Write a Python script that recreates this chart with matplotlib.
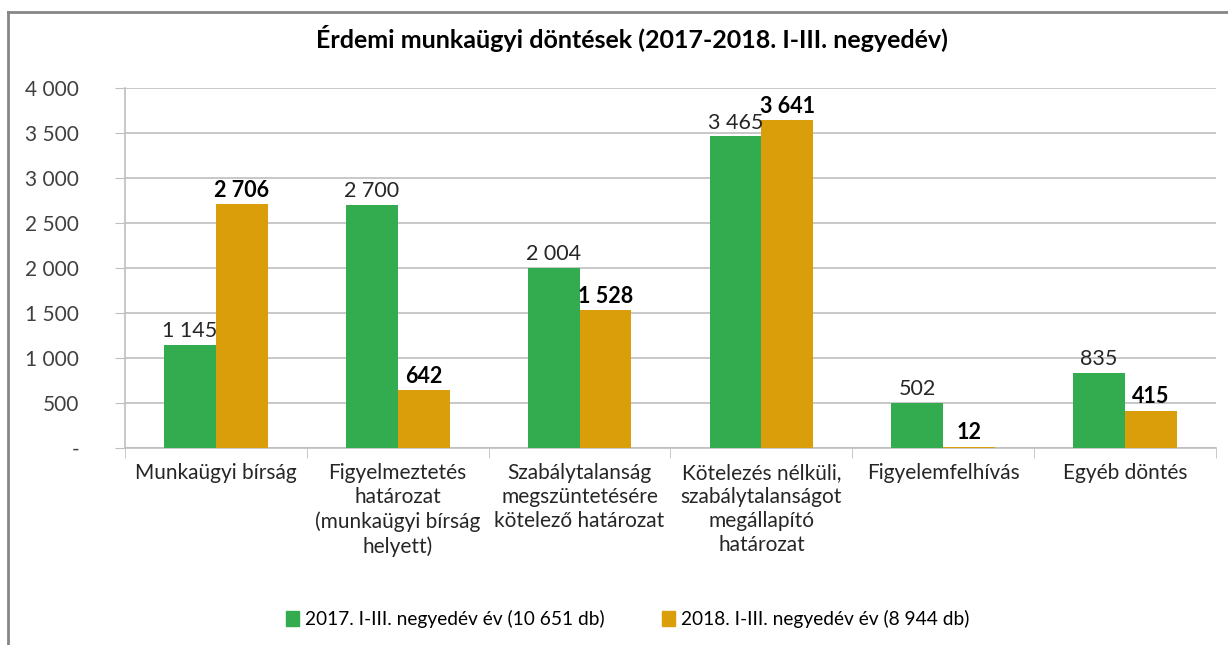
import matplotlib.pyplot as plt
import numpy as np
from matplotlib.lines import Line2D
from matplotlib.patches import Patch

plt.rcParams['font.family'] = ['Lato', 'DejaVu Sans']

categories = ['Munkaügyi bírság',
              'Figyelmeztetés\nhatározat\n(munkaügyi bírság\nhelyett)',
              'Szabálytalanság\nmegszüntetésére\nkötelező határozat',
              'Kötelezés nélküli,\nszabálytalanságot\nmegállapító\nhatározat',
              'Figyelemfelhívás',
              'Egyéb döntés']
v2017 = [1145, 2700, 2004, 3465, 502, 835]
v2018 = [2706, 642, 1528, 3641, 12, 415]
lab2017 = '2017. I-III. negyedév év (10 651 db)'
lab2018 = '2018. I-III. negyedév év (8 944 db)'
yticks = [0, 500, 1000, 1500, 2000, 2500, 3000, 3500, 4000]
yticklabels = ['-', '500', '1 000', '1 500', '2 000', '2 500', '3 000', '3 500', '4 000']

green = '#33AB4F'
orange = '#DA9E0A'
grey = '#BFBFBF'

fig = plt.figure(figsize=(12.28, 6.45), dpi=100)
ax = fig.add_axes([125/1228, 1-448/645, (1216-125)/1228, (448-88)/645])

x = np.arange(len(categories))
w = 0.285
b1 = ax.bar(x - w/2, v2017, w, color=green, zorder=3)
b2 = ax.bar(x + w/2, v2018, w, color=orange, zorder=3)

def fmt(v):
    return f'{v:,}'.replace(',', ' ')

for r, v in zip(b1, v2017):
    ax.text(r.get_x() + r.get_width()/2, v + 40, fmt(v), ha='center', va='bottom',
            fontsize=15.5, color='#262626')
for r, v in zip(b2, v2018):
    ax.text(r.get_x() + r.get_width()/2, v + 40, fmt(v), ha='center', va='bottom',
            fontsize=15.5, fontweight='bold', color='#000000')

ax.set_xlim(-0.5, len(categories) - 0.5)
ax.set_ylim(0, 4000)
ax.set_yticks(yticks)
ax.set_yticklabels(yticklabels, fontsize=15, color='#404040')
ax.yaxis.grid(True, color=grey, linewidth=1.2, zorder=0)
ax.tick_params(axis='y', length=7, color=grey, pad=26)

ax.set_xticks(x)
ax.set_xticklabels(categories, fontsize=15, color='#262626', linespacing=1.25, va='top')
ax.tick_params(axis='x', length=0, pad=11)
ax.set_xticks(np.arange(len(categories) + 1) - 0.5, minor=True)
ax.tick_params(axis='x', which='minor', length=7, color=grey)

for s in ['top', 'right']:
    ax.spines[s].set_visible(False)
ax.spines['left'].set_color(grey)
ax.spines['bottom'].set_color(grey)
ax.spines['left'].set_linewidth(1.2)
ax.spines['bottom'].set_linewidth(1.2)

fig.text(0.515, 1-38/645, 'Érdemi munkaügyi döntések (2017-2018. I-III. negyedév)',
         ha='center', va='center', fontsize=18, fontweight='bold', color='#000000')

handles = [Patch(color=green, label=lab2017), Patch(color=orange, label=lab2018)]
fig.legend(handles=handles, loc='center', bbox_to_anchor=(0.511, 1-619/645), ncol=2,
           frameon=False, fontsize=13.8, handlelength=0.7, handleheight=0.8,
           handletextpad=0.3, columnspacing=3.0)

# chart area border
fig.add_artist(Line2D([8/1228, 8/1228], [0, 1-12/645], transform=fig.transFigure,
                      color='#868686', linewidth=2))
fig.add_artist(Line2D([8/1228, 1], [1-12/645, 1-12/645], transform=fig.transFigure,
                      color='#868686', linewidth=2))

fig.savefig('out.png', dpi=100)
